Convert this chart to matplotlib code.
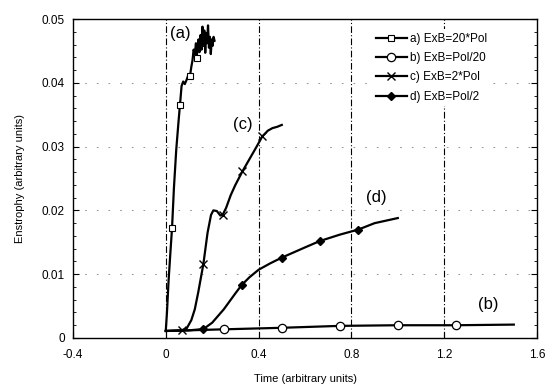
import matplotlib
matplotlib.use("Agg")
import matplotlib.pyplot as plt
from matplotlib.ticker import MultipleLocator

plt.rcParams['font.family'] = ['Liberation Sans', 'DejaVu Sans']

# Series a) ExB=20*Pol
ta = [0.0, 0.005, 0.012, 0.02, 0.027, 0.035, 0.045, 0.055, 0.061, 0.068, 0.075, 0.082, 0.09, 0.097,
      0.104, 0.11, 0.115, 0.12, 0.125, 0.13, 0.133, 0.137, 0.141, 0.145, 0.15, 0.154, 0.158,
      0.162, 0.166, 0.17, 0.174, 0.178, 0.182, 0.186, 0.19, 0.194, 0.198, 0.202, 0.206, 0.21]
ya = [0.0012, 0.004, 0.009, 0.0135, 0.0173, 0.0235, 0.0295, 0.034, 0.0365, 0.0395, 0.0402, 0.0398,
      0.0405, 0.0412, 0.041, 0.0425, 0.0435, 0.0452, 0.0445, 0.0462, 0.0439, 0.0455, 0.0468, 0.0448,
      0.0475, 0.0452, 0.0488, 0.0458, 0.0482, 0.0447, 0.0478, 0.0462, 0.0490, 0.0455, 0.0472, 0.0445,
      0.0468, 0.0458, 0.0472, 0.0466]
mark_a = [4, 8, 14, 20]

# Series b) ExB=Pol/20
tb = [0.0, 0.25, 0.5, 0.75, 1.0, 1.25, 1.5]
yb = [0.0011, 0.00136, 0.0016, 0.0019, 0.0020, 0.0020, 0.0021]
mark_b = [1, 2, 3, 4, 5]

# Series c) ExB=2*Pol
tc = [0.0, 0.068, 0.09, 0.11, 0.125, 0.14, 0.162, 0.18, 0.195, 0.205, 0.22, 0.235, 0.245, 0.26,
      0.28, 0.3, 0.33, 0.36, 0.39, 0.416, 0.44, 0.46, 0.48, 0.5]
yc = [0.0011, 0.0012, 0.0015, 0.0028, 0.0045, 0.0072, 0.0116, 0.0165, 0.0193, 0.0200, 0.0199,
      0.0192, 0.0193, 0.0204, 0.0224, 0.0240, 0.0261, 0.0280, 0.0299, 0.0316, 0.0325, 0.0329,
      0.0331, 0.0334]
mark_c = [1, 6, 12, 16, 19]

# Series d) ExB=Pol/2
td = [0.0, 0.1, 0.162, 0.2, 0.25, 0.3, 0.327, 0.36, 0.4, 0.45, 0.5, 0.55, 0.6, 0.664, 0.75,
      0.83, 0.9, 0.95, 1.0]
yd = [0.0011, 0.0012, 0.0014, 0.0024, 0.0045, 0.0070, 0.0083, 0.0095, 0.0107, 0.0117, 0.0126,
      0.0134, 0.0142, 0.0152, 0.0162, 0.0170, 0.0180, 0.0184, 0.0188]
mark_d = [2, 6, 10, 13, 15]

labels = ['a) ExB=20*Pol', 'b) ExB=Pol/20', 'c) ExB=2*Pol', 'd) ExB=Pol/2']

fig = plt.figure(figsize=(5.47, 3.88), dpi=100)
ax = fig.add_axes([73/547, 1 - 338/388, (537 - 73)/547, (338 - 19)/388])

ax.plot(ta, ya, color='black', lw=1.6, marker='s', markevery=mark_a, ms=5,
        mfc='white', mec='black', mew=0.8, label=labels[0])
ax.plot(tb, yb, color='black', lw=1.6, marker='o', markevery=mark_b, ms=6,
        mfc='white', mec='black', mew=0.9, label=labels[1])
ax.plot(tc, yc, color='black', lw=1.6, marker='x', markevery=mark_c, ms=6,
        mec='black', mew=1.0, label=labels[2])
ax.plot(td, yd, color='black', lw=1.6, marker='D', markevery=mark_d, ms=4,
        mfc='black', mec='black', label=labels[3])

ax.set_xlim(-0.4, 1.6)
ax.set_ylim(0, 0.05)
ax.yaxis.set_minor_locator(MultipleLocator(0.002))
ax.set_xticks([-0.4, 0, 0.4, 0.8, 1.2, 1.6])
ax.set_xticklabels(['-0.4', '0', '0.4', '0.8', '1.2', '1.6'])
ax.set_yticks([0, 0.01, 0.02, 0.03, 0.04, 0.05])
ax.set_yticklabels(['0', '0.01', '0.02', '0.03', '0.04', '0.05'])
ax.tick_params(which='both', direction='in', top=False, right=True, labelsize=8.5, length=4)
ax.tick_params(which='minor', length=2)
ax.tick_params(axis='x', pad=8)
ax.tick_params(axis='y', pad=6)

for x in [0, 0.4, 0.8, 1.2]:
    ax.axvline(x, color='black', lw=0.8, ls=(0, (6, 2, 1, 2)), zorder=0)
for y in [0.01, 0.02, 0.03, 0.04]:
    ax.axhline(y, color='gray', lw=0.6, ls=(0, (2, 12)), zorder=0)

for s in ax.spines.values():
    s.set_linewidth(1.0)

ax.set_xlabel('Time (arbitrary units)', fontsize=8, labelpad=9)
ax.set_ylabel('Enstrophy (arbitrary units)', fontsize=8, labelpad=12)

ax.text(0.061, 0.0478, '(a)', fontsize=12, ha='center', va='center')
ax.text(0.333, 0.0334, '(c)', fontsize=12, ha='center', va='center')
ax.text(0.907, 0.0221, '(d)', fontsize=12, ha='center', va='center')
ax.text(1.392, 0.0052, '(b)', fontsize=12, ha='center', va='center')

leg = ax.legend(loc='upper left', bbox_to_anchor=(0.645, 0.968), frameon=True, fontsize=8.5,
                handlelength=2.6, handletextpad=0.3, labelspacing=0.62, borderaxespad=0,
                fancybox=False, borderpad=0.3)
leg.get_frame().set_facecolor('white')
leg.get_frame().set_edgecolor('none')
leg.get_frame().set_alpha(1)

fig.savefig('out.png', dpi=100)
